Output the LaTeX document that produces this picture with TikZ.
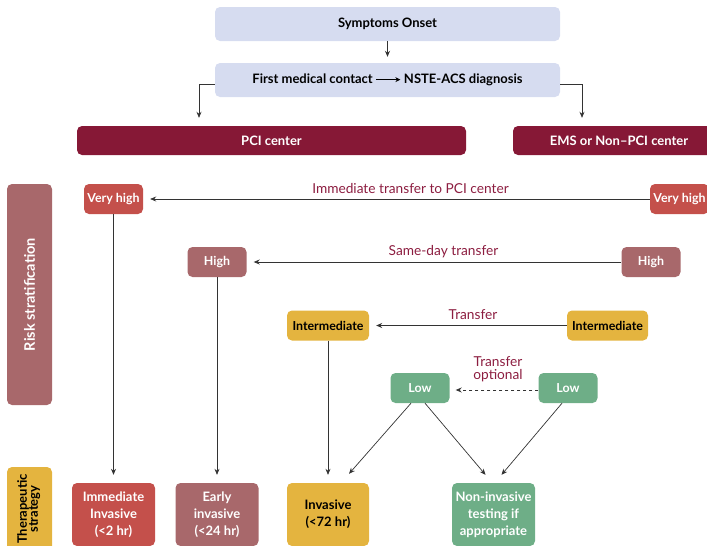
\documentclass[tikz,border=0pt]{standalone}
\usepackage{fontspec}
\setmainfont{Lato}
\usetikzlibrary{arrows.meta}

\definecolor{lavender}{HTML}{D6DCF0}
\definecolor{wine}{HTML}{861836}
\definecolor{vhred}{HTML}{C4504B}
\definecolor{rose}{HTML}{A8686B}
\definecolor{amber}{HTML}{E4B43F}
\definecolor{lowgreen}{HTML}{6EAE87}
\definecolor{labelred}{HTML}{8C1D40}

\tikzset{
  box/.style={rounded corners=5pt, inner sep=0pt, align=center,
    font=\bfseries\fontsize{13}{17}\selectfont},
  topbox/.style={box, fill=lavender, text=black, minimum width=345, minimum height=34},
  centerbox/.style={box, fill=wine, text=white, minimum height=29},
  riskbox/.style={box, minimum height=30, font=\bfseries\fontsize{12.4}{14}\selectfont},
  stratbox/.style={box, minimum width=83, minimum height=63},
  flow/.style={draw=black!80, line width=0.7pt, -{Stealth[length=6pt,width=5pt]}},
  lbl/.style={text=labelred, font=\fontsize{13.7}{13}\selectfont, inner sep=0pt, align=center}
}

% short inline arrow used inside the first-contact box
\newcommand{\leadsarrow}{\tikz[baseline=-0.6ex]\draw[line width=0.9pt,
  -{Stealth[length=5pt,width=5pt]}] (0pt,0pt) -- (24pt,0pt);}

\begin{document}
\begin{tikzpicture}[x=1pt,y=-1pt]
  \useasboundingbox (0,0) rectangle (707,546);

  % access path
  \node[topbox] (onset) at (387.5,24) {Symptoms Onset};
  \node[topbox] (fmc) at (387.5,80) {First medical contact \leadsarrow\ NSTE-ACS diagnosis};
  \node[centerbox, minimum width=389] (pci) at (271.5,140.5) {PCI center};
  \node[centerbox, minimum width=212] (ems) at (619,140.5) {EMS or Non–PCI center};

  % side bands
  \node[box, fill=rose, text=white, minimum width=45, minimum height=221,
        font=\bfseries\fontsize{14.5}{16}\selectfont] (riskband) at (29.5,294.5)
    {\rotatebox{90}{Risk stratification}};
  \node[box, fill=amber, text=black, minimum width=45, minimum height=84,
        font=\bfseries\fontsize{13}{14}\selectfont] (therband) at (29.5,509)
    {\rotatebox{90}{\begin{tabular}{@{}c@{}}Therapeutic\\[-3pt] strategy\end{tabular}}};

  % risk levels at the PCI center
  \node[riskbox, fill=vhred, text=white, minimum width=59] (vhL) at (113.5,199) {Very high};
  \node[riskbox, fill=rose, text=white, minimum width=59] (hiL) at (217,262) {High};
  \node[riskbox, fill=amber, text=black, minimum width=82] (intL) at (328,325.5) {Intermediate};
  \node[riskbox, fill=lowgreen, text=white, minimum width=59] (lowL) at (420,388) {Low};

  % risk levels outside the PCI center
  \node[riskbox, fill=vhred, text=white, minimum width=59] (vhR) at (679.5,199) {Very high};
  \node[riskbox, fill=rose, text=white, minimum width=59] (hiR) at (651,262) {High};
  \node[riskbox, fill=amber, text=black, minimum width=81] (intR) at (607.5,325.5) {Intermediate};
  \node[riskbox, fill=lowgreen, text=white, minimum width=59] (lowR) at (568,388) {Low};

  % strategies
  \node[stratbox, fill=vhred, text=white] (imm) at (113.5,514.5) {Immediate\\Invasive\\(<2 hr)};
  \node[stratbox, fill=rose, text=white] (early) at (217,514.5) {Early\\invasive\\(<24 hr)};
  \node[stratbox, fill=amber, text=black, minimum width=82] (inv) at (328,514.5) {Invasive\\(<72 hr)};
  \node[stratbox, fill=lowgreen, text=white] (noninv) at (493.5,514.5) {Non-invasive\\testing if\\appropriate};

  % transfer labels
  \node[lbl] (lblvh) at (410.5,189) {Immediate transfer to PCI center};
  \node[lbl] (lblhi) at (443.5,252) {Same-day transfer};
  \node[lbl] (lblint) at (473,315) {Transfer};
  \node[lbl] (lbllow) at (498,369) {Transfer\\optional};

  % top connectors
  \draw[flow, shorten >=6pt] (onset) -- (fmc);
  \draw[flow, shorten >=8pt] ([yshift=-4pt]fmc.west) -| ([xshift=-72.5pt]pci.north);
  \draw[flow, shorten >=8pt] ([yshift=-4pt]fmc.east) -| ([xshift=-37pt]ems.north);

  % transfers
  \draw[flow, shorten >=7pt] (vhR) -- (vhL);
  \draw[flow, shorten >=7pt] (hiR) -- (hiL);
  \draw[flow, shorten >=7pt] (intR) -- (intL);
  \draw[flow, dashed, shorten >=6pt] ([yshift=-2pt]lowR.west) -- ([yshift=-2pt]lowL.east);

  % risk level to strategy
  \draw[flow, shorten >=8pt] (vhL) -- (imm);
  \draw[flow, shorten >=8pt] (hiL) -- (early);
  \draw[flow, shorten >=8pt] (intL) -- (inv);
  \draw[flow] ([xshift=-9pt]lowL.south) -- ([xshift=21pt,yshift=9pt]inv.north);
  \draw[flow] ([xshift=5pt]lowL.south) -- ([xshift=-8pt,yshift=8pt]noninv.north);
  \draw[flow] ([xshift=-6pt]lowR.south) -- ([xshift=8pt,yshift=8pt]noninv.north);
\end{tikzpicture}
\end{document}
